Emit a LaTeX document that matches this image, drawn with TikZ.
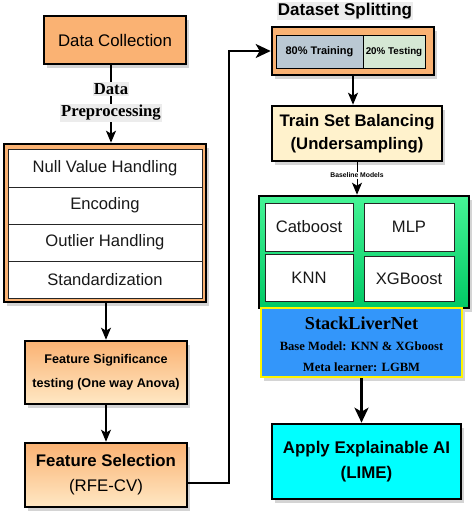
\documentclass[tikz,border=0pt]{standalone}
\usepackage{fontspec}
\setmainfont{Liberation Sans}
\newfontfamily\serifb{Liberation Serif}[Scale=1.0]
\usetikzlibrary{shadows,arrows.meta}
\definecolor{orangeF}{RGB}{250,178,115}
\definecolor{orangeL}{RGB}{255,232,196}
\definecolor{trainC}{RGB}{186,200,211}
\definecolor{testC}{RGB}{213,232,212}
\definecolor{tsbC}{RGB}{255,242,204}
\definecolor{greenT}{RGB}{70,245,150}
\definecolor{greenB}{RGB}{0,200,100}
\definecolor{stackC}{RGB}{51,150,250}
\definecolor{limeC}{RGB}{0,255,255}
\definecolor{yellowB}{RGB}{255,245,0}
\definecolor{labelbg}{RGB}{236,236,236}
\definecolor{celltext}{RGB}{25,25,25}
\begin{document}
\begin{tikzpicture}[x=1pt,y=-1pt,
  shad/.style={drop shadow={shadow xshift=3pt,shadow yshift=-4pt,opacity=.28,fill=black!60}},
  box/.style={draw=black,line width=2.6,inner sep=0,shad},
  cell/.style={draw=black!85,line width=1,fill=white,inner sep=0,text=celltext,font=\fontsize{16.6}{20}\selectfont},
  lbl/.style={fill=labelbg,inner sep=1.2,font=\serifb\bfseries\fontsize{16.7}{20}\selectfont},
  arr/.style={-{Stealth[length=12,width=10,inset=3]}},
  bigarr/.style={-{Stealth[length=15,width=14,inset=4]}},
]
\useasboundingbox (0,0) rectangle (472,520);

% ---------- left column ----------
\node[box,fill=orangeF,minimum width=142,minimum height=48,font=\fontsize{16.8}{20}\selectfont] (dc) at (115,40) {Data Collection};

\node[box,fill=orangeF,minimum width=202,minimum height=158] (prep) at (105,223) {};
\node[cell,minimum width=194,minimum height=38] (c1) at (105,168) {Null Value Handling};
\node[cell,minimum width=194,minimum height=37] (c2) at (105,205.5) {Encoding};
\node[cell,minimum width=194,minimum height=37] (c3) at (105,242.5) {Outlier Handling};
\node[cell,minimum width=194,minimum height=37] (c4) at (105,279.5) {Standardization};

\coordinate (px) at (111,0);
\draw[line width=1.6,arr] (dc.south -| px) -- (prep.north -| px);
\node[lbl] (dp1) at (111,89) {Data};
\node[lbl] (dp2) at (111,113) {Preprocessing};

\node[box,top color=orangeF,bottom color=orangeL,minimum width=162,minimum height=63,align=center,
  font=\bfseries\fontsize{12.6}{23.5}\selectfont] (fst) at (106,372.5) {Feature Significance\\testing (One way Anova)};
\draw[line width=1.2,arr] (prep.south -| fst.north) -- (fst.north);

\node[box,top color=orangeF,bottom color=orangeL,minimum width=162,minimum height=64,align=center,
  font=\fontsize{16.8}{25}\selectfont] (fs) at (106,475) {\textbf{Feature Selection}\\(RFE-CV)};
\draw[line width=1.2,arr] (fst.south) -- (fs.north);

% ---------- right column ----------
\node[fill=labelbg,inner sep=1.2,font=\bfseries\fontsize{17}{20}\selectfont] (dst) at (345,11) {Dataset Splitting};
\node[box,fill=orangeF,minimum width=162,minimum height=48] (ds) at (353,51) {};
\node[draw=black,line width=1,fill=trainC,minimum width=87,minimum height=33,inner sep=0,
  font=\bfseries\fontsize{11}{13}\selectfont] (tr) at (319.5,51.5) {80\% Training};
\node[draw=black,line width=1,fill=testC,minimum width=62,minimum height=33,inner sep=0,
  font=\bfseries\fontsize{9.8}{12}\selectfont] (te) at (394,51.5) {20\% Testing};

\coordinate (b1) at (229,483);
\coordinate (b2) at (229,51);
\draw[line width=2.2,bigarr] (fs.east |- b1) -- (b1) -- (b2) -- (ds.west);

\node[box,fill=tsbC,minimum width=170,minimum height=55,align=center,
  font=\bfseries\fontsize{16.7}{23}\selectfont] (tsb) at (357,133.5) {Train Set Balancing\\(Undersampling)};
\draw[line width=1.5,arr] (ds.south) -- (ds.south |- tsb.north);

\node[box,top color=greenT,bottom color=greenB,minimum width=210,minimum height=112] (grn) at (364,252) {};
\draw[line width=1,arr] (tsb.south) -- (tsb.south |- grn.north);
\node[fill=white,inner sep=1,font=\bfseries\fontsize{6.8}{8}\selectfont] (bm) at (357,175) {Baseline Models};

\node[cell,minimum width=88,minimum height=48] (cat) at (309,227) {Catboost};
\node[cell,minimum width=90,minimum height=48] (mlp) at (409,227) {MLP};
\node[cell,minimum width=88,minimum height=47] (knn) at (309,277.5) {KNN};
\node[cell,minimum width=90,minimum height=45] (xgb) at (409,278.5) {XGBoost};

\node[draw=yellowB,line width=2.6,fill=stackC,minimum width=201,minimum height=69,inner sep=0,shad] (stack) at (361.5,342.5) {};
\node[inner sep=0,font=\serifb\bfseries\fontsize{18.2}{20}\selectfont] (st1) at (361.5,323) {StackLiverNet};
\node[inner sep=0,font=\serifb\bfseries\fontsize{12.6}{15}\selectfont] (st2) at (361.5,346) {Base Model: KNN \& XGboost};
\node[inner sep=0,font=\serifb\bfseries\fontsize{12.6}{15}\selectfont] (st3) at (361.5,367) {Meta learner: LGBM};

\node[box,fill=limeC,minimum width=189,minimum height=75,align=center,
  font=\bfseries\fontsize{16.9}{25}\selectfont] (lime) at (366.5,461.5) {Apply Explainable AI\\(LIME)};
\draw[line width=2.6,bigarr] (stack.south) -- (stack.south |- lime.north);
\end{tikzpicture}
\end{document}
